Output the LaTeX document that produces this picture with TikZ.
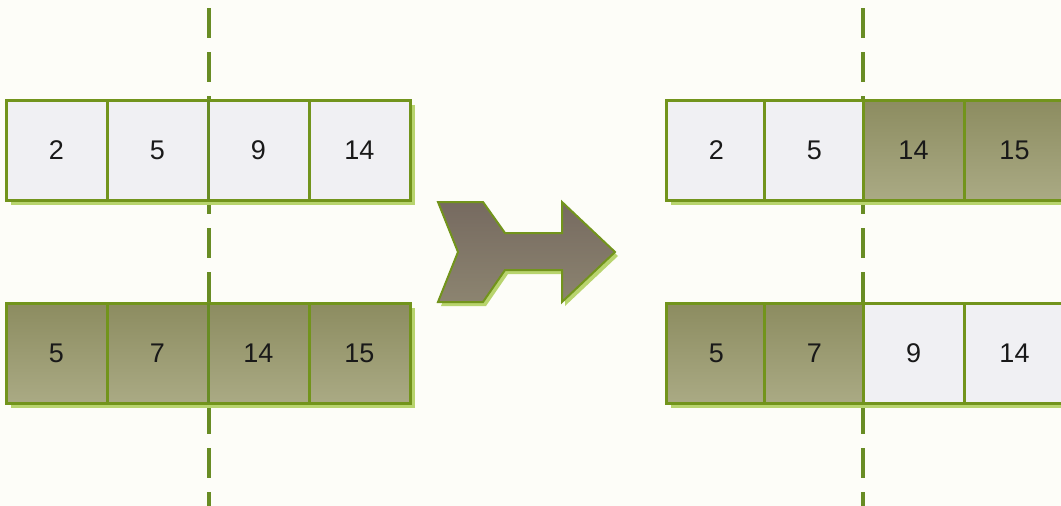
\documentclass[tikz,border=0pt]{standalone}
\usepackage{fontspec}
\setmainfont{Liberation Sans}
\definecolor{bg}{RGB}{253,253,248}
\definecolor{edge}{RGB}{114,148,28}
\definecolor{shade}{RGB}{184,212,110}
\definecolor{lightcell}{RGB}{240,240,243}
\definecolor{darktop}{RGB}{140,140,96}
\definecolor{darkbot}{RGB}{170,170,132}
\definecolor{dashcol}{RGB}{104,140,36}
\definecolor{arrtop}{RGB}{118,106,96}
\definecolor{arrbot}{RGB}{140,132,112}
\definecolor{txt}{RGB}{25,25,25}
\tikzset{
  cell/.style={rectangle, draw=edge, line width=3pt, minimum width=101pt,
    minimum height=100pt, inner sep=0pt, outer sep=0pt, anchor=north west,
    font=\fontsize{27}{30}\selectfont, text=txt,
    preaction={fill=shade, transform canvas={shift={(5pt,-5pt)}}}},
  light/.style={cell, fill=lightcell},
  dark/.style={cell, top color=darktop, bottom color=darkbot},
  split/.style={draw=dashcol, line width=3.2pt, dash pattern=on 30pt off 14pt},
  bigarrow/.style={draw=edge, line width=2pt, top color=arrtop, bottom color=arrbot,
    preaction={fill=shade, transform canvas={shift={(3pt,-4pt)}}}}
}
\begin{document}
\begin{tikzpicture}[x=1pt,y=-1pt]
\fill[bg] (0,0) rectangle (1061,506);
\clip (0,0) rectangle (1061,506);
% split lines
\coordinate (s1a) at (209,8); \coordinate (s1b) at (209,520);
\coordinate (s2a) at (863,8); \coordinate (s2b) at (863,520);
\draw[split] (s1a) -- (s1b);
\draw[split] (s2a) -- (s2b);
% left top row
\node[light] (a1) at (6,100) {2};
\node[light] (a2) at (107,100) {5};
\node[light] (a3) at (208,100) {9};
\node[light] (a4) at (309,100) {14};
% left bottom row
\node[dark] (b1) at (6,303) {5};
\node[dark] (b2) at (107,303) {7};
\node[dark] (b3) at (208,303) {14};
\node[dark] (b4) at (309,303) {15};
% right top row
\node[light] (c1) at (666,100) {2};
\node[light] (c2) at (764,100) {5};
\node[dark] (c3) at (863,100) {14};
\node[dark] (c4) at (964,100) {15};
% right bottom row
\node[dark] (d1) at (666,303) {5};
\node[dark] (d2) at (764,303) {7};
\node[light] (d3) at (863,303) {9};
\node[light] (d4) at (964,303) {14};
% split line through the rows
\draw[draw=dashcol, line width=3pt] (a3.north west) -- (a3.south west);
\draw[draw=dashcol, line width=3pt] (b3.north west) -- (b3.south west);
% big arrow
\path[bigarrow] (438,202) -- (483,202) -- (505,233) -- (562,233) -- (562,202)
  -- (615,252) -- (562,302) -- (562,270) -- (505,270) -- (483,302)
  -- (438,302) -- (458,252) -- cycle;
\end{tikzpicture}
\end{document}
